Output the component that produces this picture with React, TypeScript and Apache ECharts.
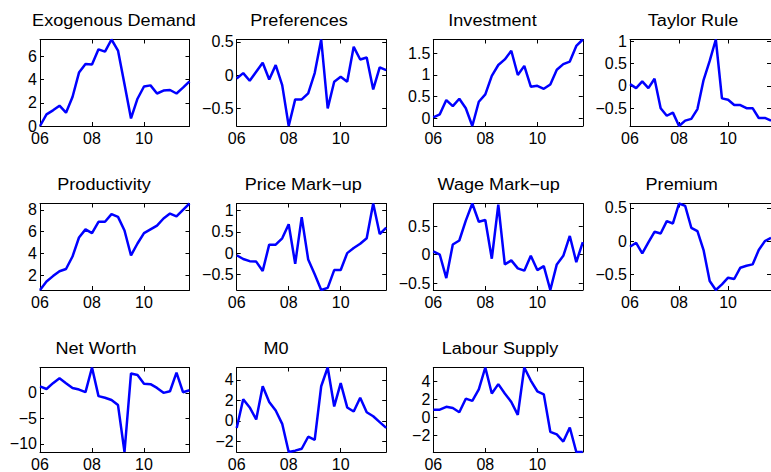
import React, { useEffect, useRef } from "react";
import * as echarts from "echarts";

// ---- data ----
const titles = [
  "Exogenous Demand", "Preferences", "Investment", "Taylor Rule",
  "Productivity", "Price Mark\u2212up", "Wage Mark\u2212up", "Premium",
  "Net Worth", "M0", "Labour Supply",
];

const exoDemand = [0, 1.0, 1.35, 1.75, 1.15, 2.5, 4.6, 5.35, 5.3, 6.6, 6.4, 7.45, 6.5, 3.6, 0.65, 2.35, 3.4, 3.5, 2.8, 3.05, 3.1, 2.8, 3.3, 3.85];
const preferences = [-0.05, 0.03, -0.085, 0.05, 0.185, -0.065, 0.15, -0.15, -0.765, -0.365, -0.365, -0.275, 0.03, 0.535, -0.5, -0.1, -0.025, -0.1, 0.425, 0.235, 0.265, -0.215, 0.115, 0.075];
const investment = [0.02, 0.09, 0.42, 0.28, 0.45, 0.23, -0.18, 0.38, 0.55, 0.98, 1.23, 1.36, 1.56, 1.0, 1.21, 0.73, 0.75, 0.68, 0.78, 1.12, 1.25, 1.31, 1.67, 1.82];
const taylorRule = [0.04, -0.05, 0.1, -0.05, 0.16, -0.5, -0.67, -0.6, -0.9, -0.78, -0.74, -0.52, 0.13, 0.56, 1.04, -0.28, -0.31, -0.43, -0.43, -0.5, -0.5, -0.72, -0.72, -0.78];
const productivity = [0.62, 1.4, 1.9, 2.35, 2.55, 3.7, 5.45, 6.2, 5.85, 6.9, 6.9, 7.6, 7.35, 6.1, 3.8, 4.9, 5.85, 6.2, 6.55, 7.2, 7.65, 7.4, 8.0, 8.58];
const priceMarkup = [-0.05, -0.14, -0.19, -0.2, -0.42, 0.2, 0.2, 0.35, 0.68, -0.25, 0.85, -0.15, -0.5, -0.87, -0.82, -0.4, -0.4, 0.0, 0.12, 0.22, 0.35, 1.17, 0.45, 0.6];
const wageMarkup = [0.06, 0.0, -0.41, 0.18, 0.25, 0.6, 0.9, 0.58, 0.61, -0.07, 0.88, -0.17, -0.1, -0.24, -0.28, -0.02, -0.27, -0.2, -0.62, -0.17, -0.02, 0.33, -0.13, 0.22];
const premium = [-0.085, -0.025, -0.185, -0.02, 0.14, 0.115, 0.3, 0.265, 0.565, 0.53, 0.2, 0.15, -0.135, -0.6, -0.735, -0.65, -0.55, -0.57, -0.4, -0.37, -0.35, -0.135, 0.0, 0.05];
const netWorth = [1.27, 0.76, 1.9, 2.87, 1.9, 0.96, 0.64, 0.13, 4.97, -0.64, -0.96, -1.4, -2.4, -11.6, 3.8, 3.5, 1.78, 1.7, 0.96, 0.0, 0.32, 3.95, 0.13, 0.5];
const m0 = [-0.7, 2.1, 1.3, 0.13, 3.37, 1.84, 1.0, -0.3, -3.05, -2.92, -2.73, -1.56, -1.87, 3.37, 5.2, 1.4, 3.68, 1.3, 0.9, 2.25, 0.83, 0.44, -0.13, -0.7];
const labourSupply = [0.84, 0.84, 1.16, 1.02, 0.55, 2.07, 1.82, 3.1, 5.56, 2.65, 3.7, 2.65, 1.7, 0.25, 5.56, 4.1, 2.9, 2.55, -1.64, -1.93, -2.73, -1.16, -3.9, -3.9];

const seriesValues = [exoDemand, preferences, investment, taylorRule, productivity, priceMarkup, wageMarkup, premium, netWorth, m0, labourSupply];

const yTicks = [
  [0, 2, 4, 6],
  [-0.5, 0, 0.5],
  [0, 0.5, 1, 1.5],
  [-0.5, 0, 0.5, 1],
  [2, 4, 6, 8],
  [-0.5, 0, 0.5, 1],
  [-0.5, 0, 0.5],
  [-0.5, 0, 0.5],
  [-10, -5, 0],
  [-2, 0, 2, 4],
  [-2, 0, 2, 4],
];

const xTickValues = [2006, 2008, 2010];
const xTickLabels = ["06", "08", "10"];
const quarters = exoDemand.map((_, k) => 2006 + k / 4);

// ---- layout ----
const COL_LEFT = [40, 236.7, 433.3, 630];
const ROW_TOP = [39.5, 203.5, 367.5];
const W = 149.5;
const H = 86.5;
const TITLE_X = [114, 299, 492.5, 693, 104, 303.3, 498.7, 681.7, 96, 276, 500];
const TITLE_Y = [20.5, 184.5, 349];
const FONT = "'Liberation Sans', Arial, Helvetica, sans-serif";

function buildOption() {
  const grid: any[] = [];
  const xAxis: any[] = [];
  const yAxis: any[] = [];
  const series: any[] = [];
  const graphic: any[] = [];
  const line = { show: true, onZero: false, lineStyle: { color: "#000", width: 1 } };
  seriesValues.forEach((vals, i) => {
    const r = Math.floor(i / 4);
    const c = i % 4;
    grid.push({ left: COL_LEFT[c], top: ROW_TOP[r], width: W, height: H, show: false });
    const xBase = {
      gridIndex: i, type: "value", min: quarters[0], max: quarters[quarters.length - 1],
      axisLine: line, splitLine: { show: false },
      axisTick: { show: true, inside: true, length: 4, customValues: xTickValues, lineStyle: { color: "#000" } },
    };
    xAxis.push({
      ...xBase, position: "bottom",
      axisLabel: {
        show: true, customValues: xTickValues, margin: 4, color: "#000", fontSize: 16, fontFamily: FONT,
        formatter: (v: number) => { const k = xTickValues.indexOf(v); return k >= 0 ? xTickLabels[k] : ""; },
      },
    });
    xAxis.push({ ...xBase, position: "top", axisLabel: { show: false } });
    const ymin = Math.min(...vals);
    const ymax = Math.max(...vals);
    const yBase = {
      gridIndex: i, type: "value", min: ymin, max: ymax,
      axisLine: line, splitLine: { show: false },
      axisTick: { show: true, inside: true, length: 4, customValues: yTicks[i], lineStyle: { color: "#000" } },
    };
    yAxis.push({
      ...yBase, position: "left",
      axisLabel: {
        show: true, customValues: yTicks[i], margin: 3, color: "#000", fontSize: 16, fontFamily: FONT,
        formatter: (v: number) => String(v).replace("-", "\u2212"),
      },
    });
    yAxis.push({ ...yBase, position: "right", axisLabel: { show: false } });
    series.push({
      type: "line", xAxisIndex: 2 * i, yAxisIndex: 2 * i,
      data: quarters.map((q, k) => [q, vals[k]]),
      showSymbol: false, symbol: "none", silent: true, clip: true,
      lineStyle: { color: "#0000ff", width: 2.5 },
      itemStyle: { color: "#0000ff" },
    });
    graphic.push({
      type: "text", x: TITLE_X[i], y: TITLE_Y[r], scaleX: 1.13,
      style: { text: titles[i], fontSize: 16, fontFamily: FONT, fill: "#000", textAlign: "center", textVerticalAlign: "middle" },
    });
  });
  return { animation: false, backgroundColor: "#fff", grid, xAxis, yAxis, series, graphic };
}

export default function App() {
  const ref = useRef<HTMLDivElement>(null);
  useEffect(() => {
    if (!ref.current) return;
    const chart = echarts.init(ref.current, undefined, { renderer: "svg" });
    chart.setOption(buildOption() as any);
    return () => chart.dispose();
  }, []);
  return (
    <div style={{ position: "fixed", left: 0, top: 0, width: 771, height: 472, overflow: "hidden", background: "#fff" }}>
      <div ref={ref} style={{ width: 771, height: 472 }} />
    </div>
  );
}
